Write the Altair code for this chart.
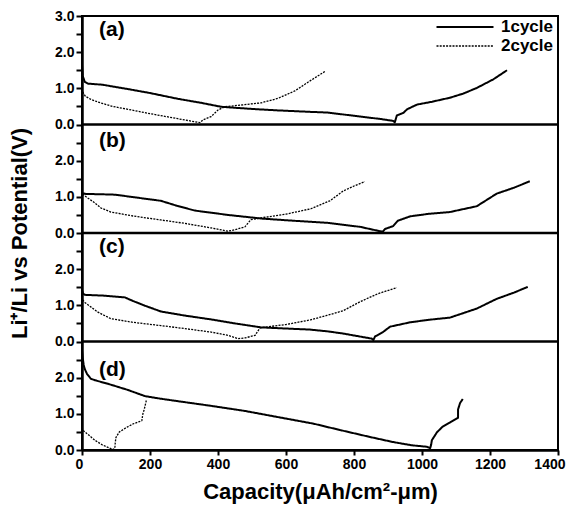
import altair as alt
import pandas as pd

# ---------------- data ----------------
panel_names = ["a", "b", "c", "d"]
panel_labels = ["(a)", "(b)", "(c)", "(d)"]
cycles = ["1cycle", "2cycle"]

# panel (a)
a1_x = [0, 2, 8, 18, 60, 135, 200, 282, 350, 409, 500, 576, 670, 723, 818, 880, 915, 920, 926, 945, 956, 985, 1030, 1082, 1120, 1161, 1210, 1250]
a1_v = [1.65, 1.35, 1.18, 1.13, 1.10, 0.98, 0.87, 0.71, 0.60, 0.49, 0.43, 0.39, 0.35, 0.33, 0.22, 0.15, 0.10, 0.06, 0.25, 0.32, 0.42, 0.55, 0.63, 0.74, 0.85, 1.01, 1.25, 1.50]
a2_x = [2, 10, 25, 47, 90, 135, 200, 282, 347, 356, 380, 400, 420, 479, 527, 576, 626, 673, 715]
a2_v = [0.90, 0.78, 0.70, 0.62, 0.50, 0.42, 0.30, 0.16, 0.05, 0.13, 0.22, 0.40, 0.49, 0.55, 0.60, 0.72, 0.93, 1.22, 1.47]

# panel (b)
b1_x = [0, 12, 60, 97, 160, 232, 280, 332, 429, 527, 620, 723, 818, 876, 885, 891, 915, 929, 965, 1020, 1082, 1161, 1220, 1270, 1317]
b1_v = [1.10, 1.08, 1.07, 1.06, 0.98, 0.89, 0.75, 0.62, 0.50, 0.40, 0.34, 0.28, 0.17, 0.05, 0.04, 0.11, 0.19, 0.34, 0.46, 0.53, 0.58, 0.74, 1.09, 1.25, 1.43]
b2_x = [2, 12, 35, 56, 85, 150, 232, 300, 380, 429, 449, 479, 497, 527, 600, 673, 729, 768, 800, 832]
b2_v = [1.08, 1.00, 0.85, 0.69, 0.58, 0.47, 0.36, 0.27, 0.14, 0.05, 0.09, 0.17, 0.37, 0.42, 0.52, 0.67, 0.89, 1.16, 1.30, 1.42]

# panel (c)
c1_x = [0, 3, 8, 60, 126, 150, 185, 232, 300, 380, 450, 527, 620, 670, 723, 768, 852, 857, 862, 885, 906, 965, 1020, 1082, 1161, 1220, 1270, 1311]
c1_v = [1.42, 1.33, 1.29, 1.27, 1.22, 1.12, 0.99, 0.83, 0.72, 0.61, 0.50, 0.39, 0.35, 0.33, 0.28, 0.22, 0.08, 0.04, 0.14, 0.26, 0.41, 0.53, 0.60, 0.66, 0.91, 1.18, 1.35, 1.51]
c2_x = [2, 8, 47, 85, 150, 232, 300, 380, 430, 459, 480, 509, 523, 532, 600, 673, 720, 768, 818, 870, 926]
c2_v = [1.15, 1.08, 0.81, 0.63, 0.53, 0.44, 0.36, 0.26, 0.17, 0.08, 0.10, 0.17, 0.37, 0.39, 0.47, 0.60, 0.72, 0.85, 1.10, 1.32, 1.49]

# panel (d)
d1_x = [0, 2, 5, 8, 15, 26, 38, 80, 135, 185, 230, 282, 380, 479, 582, 680, 760, 847, 915, 970, 1014, 1024, 1027, 1029, 1044, 1060, 1082, 1106, 1106, 1112, 1120]
d1_v = [2.75, 2.55, 2.35, 2.24, 2.10, 1.97, 1.93, 1.82, 1.66, 1.49, 1.42, 1.35, 1.22, 1.08, 0.90, 0.73, 0.55, 0.36, 0.22, 0.13, 0.09, 0.05, 0.15, 0.27, 0.49, 0.64, 0.76, 0.89, 1.12, 1.30, 1.41]
d2_x = [0, 3, 15, 38, 60, 85, 95, 97, 98, 100, 110, 132, 150, 176, 179, 183, 190]
d2_v = [0.62, 0.54, 0.45, 0.27, 0.14, 0.04, 0.02, 0.10, 0.22, 0.35, 0.50, 0.63, 0.72, 0.81, 1.00, 1.12, 1.40]

# panel label heights (within each panel, in volts)
label_v = [2.6, 2.55, 2.6, 2.2]
panel_bounds = [3, 6, 9]

x_ticks = list(range(0, 1401, 100))
y_ticks = [i * 0.5 for i in range(25)]

series = [
    ("a", "1cycle", a1_x, a1_v), ("a", "2cycle", a2_x, a2_v),
    ("b", "1cycle", b1_x, b1_v), ("b", "2cycle", b2_x, b2_v),
    ("c", "1cycle", c1_x, c1_v), ("c", "2cycle", c2_x, c2_v),
    ("d", "1cycle", d1_x, d1_v), ("d", "2cycle", d2_x, d2_v),
]
rows = []
for panel, cyc, xs, vs in series:
    for i, (xv, vv) in enumerate(zip(xs, vs)):
        rows.append({"panel": panel, "cycle": cyc, "x": xv, "v": vv, "i": i})
df = pd.DataFrame(rows)

lab_df = pd.DataFrame({"panel": panel_names, "label": panel_labels, "v": label_v})
bound_df = pd.DataFrame({"y": panel_bounds})

FONT = "Liberation Sans"
offset_expr = "datum.v + 3 * indexof(['d', 'c', 'b', 'a'], datum.panel)"

y_axis = alt.Axis(
    values=y_ticks,
    labelExpr="datum.value % 1 != 0 ? '' : (datum.value == 12 ? '3.0' : format(datum.value % 3, '.1f'))",
    labelOverlap=False,
    labelBound=False,
    labelFlush=False,
    tickSize=6,
    tickWidth=2,
    domainWidth=2.5,
    labelPadding=2,
    titlePadding=23,
    grid=False,
)
y_scale = alt.Scale(domain=[0, 12], nice=False, zero=False)
Y_TITLE = "Li⁺/Li vs Potential(V)"

x_enc = alt.X(
    "x:Q",
    scale=alt.Scale(domain=[0, 1400], nice=False, zero=False),
    axis=alt.Axis(
        values=x_ticks,
        labelExpr="datum.value % 200 == 0 ? datum.label : ''",
        format="d",
        labelFlush=True,
        labelFlushOffset=7,
        labelOverlap=False,
        tickSize=5,
        tickWidth=2,
        domainWidth=2.5,
        labelPadding=2,
        titlePadding=10,
        grid=False,
    ),
    title="Capacity(μAh/cm²-μm)",
)


def y_enc():
    return alt.Y("y:Q", scale=y_scale, axis=y_axis, title=Y_TITLE)


lines = (
    alt.Chart(df)
    .transform_calculate(y=offset_expr)
    .mark_line(color="black", strokeJoin="round")
    .encode(
        x=x_enc,
        y=y_enc(),
        strokeDash=alt.StrokeDash(
            "cycle:N",
            scale=alt.Scale(domain=cycles, range=[[1, 0], [2, 1.2]]),
            legend=alt.Legend(
                title=None,
                orient="none",
                legendX=372,
                legendY=0,
                symbolType="M-2.85,0H2.85",
                symbolSize=400,
                symbolStrokeWidth=2,
                symbolStrokeColor="black",
                labelFont=FONT,
                labelFontSize=17,
                labelFontWeight="bold",
                labelColor="black",
                labelOffset=25,
                rowPadding=0,
                padding=0,
            ),
        ),
        strokeWidth=alt.StrokeWidth(
            "cycle:N", scale=alt.Scale(domain=cycles, range=[2, 1.3]), legend=None
        ),
        detail="panel:N",
        order="i:Q",
    )
)

bounds = alt.Chart(bound_df).mark_rule(color="black", strokeWidth=2.5).encode(y=y_enc())

labels = (
    alt.Chart(lab_df)
    .transform_calculate(y=offset_expr)
    .mark_text(align="left", baseline="middle", font=FONT, fontSize=21, fontWeight="bold", color="black")
    .encode(x=alt.datum(50), y=y_enc(), text="label:N")
)

chart = (
    alt.layer(lines, bounds, labels)
    .properties(
        width=476,
        height=434,
        autosize=alt.AutoSizeParams(type="none"),
        padding={"left": 74, "top": 8, "right": 8, "bottom": 58},
    )
    .configure_view(stroke="black", strokeWidth=2)
    .configure_axis(
        labelFont=FONT,
        labelFontSize=14,
        labelFontWeight="bold",
        labelColor="black",
        titleFont=FONT,
        titleFontSize=22,
        titleFontWeight="bold",
        titleColor="black",
        domainColor="black",
        tickColor="black",
    )
)

chart.save("out.html", embed_options={"renderer": "svg", "actions": False})
